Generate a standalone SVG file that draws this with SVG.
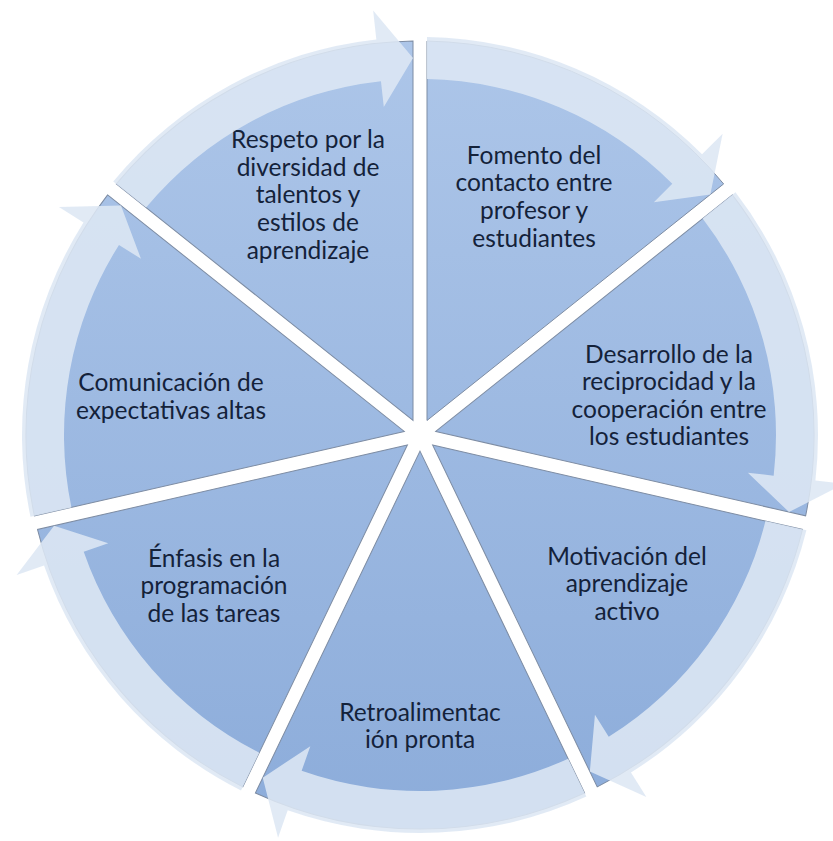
<svg xmlns="http://www.w3.org/2000/svg" width="833" height="841" viewBox="0 0 833 841">
<defs>
<style>
.w{stroke:#7d8ca3;stroke-width:1;}
.r{fill:#dde7f4;fill-opacity:0.88;}
.t{font-family:Lato,"Liberation Sans",sans-serif;font-size:24.5px;fill:#14223a;text-anchor:middle;}
</style>
<linearGradient id="g0" gradientUnits="userSpaceOnUse" x1="0" y1="-400" x2="0" y2="400">
<stop offset="0" stop-color="#adc6e9"/>
<stop offset="1" stop-color="#8cacda"/>
</linearGradient>
<linearGradient id="g1" href="#g0" gradientTransform="rotate(-51.4286)"/>
<linearGradient id="g2" href="#g0" gradientTransform="rotate(-102.8571)"/>
<linearGradient id="g3" href="#g0" gradientTransform="rotate(-154.2857)"/>
<linearGradient id="g4" href="#g0" gradientTransform="rotate(-205.7143)"/>
<linearGradient id="g5" href="#g0" gradientTransform="rotate(-257.1429)"/>
<linearGradient id="g6" href="#g0" gradientTransform="rotate(-308.5714)"/>
<path id="wedge" d="M7,-14.53 L7,-393.94 A394,394 0 0 1 303.63,-251.09 Z"/>
<path id="ring" d="M7,-397.94 A398,398 0 0 1 282.07,-280.79 L302.62,-301.25 L290.34,-240.48 L233.87,-232.82 L252.30,-251.16 A356,356 0 0 0 7,-355.93 Z"/>
</defs>
<rect width="833" height="841" fill="#ffffff"/>
<g id="node-fomento">
<use href="#wedge" class="w" fill="url(#g0)" transform="translate(420,435)"/>
<text class="t"><tspan x="534" y="163.5">Fomento del</tspan><tspan x="534" y="191.2">contacto entre</tspan><tspan x="534" y="218.9">profesor y</tspan><tspan x="534" y="246.6">estudiantes</tspan></text>
</g>
<g id="node-desarrollo">
<use href="#wedge" class="w" fill="url(#g1)" transform="translate(420,435) rotate(51.4286)"/>
<text class="t"><tspan x="669" y="362.5">Desarrollo de la</tspan><tspan x="669" y="390">reciprocidad y la</tspan><tspan x="669" y="417.5">cooperación entre</tspan><tspan x="669" y="445">los estudiantes</tspan></text>
</g>
<g id="node-motivacion">
<use href="#wedge" class="w" fill="url(#g2)" transform="translate(420,435) rotate(102.8571)"/>
<text class="t"><tspan x="627" y="564.5">Motivación del</tspan><tspan x="627" y="592">aprendizaje</tspan><tspan x="627" y="619.5">activo</tspan></text>
</g>
<g id="node-retro">
<use href="#wedge" class="w" fill="url(#g3)" transform="translate(420,435) rotate(154.2857)"/>
<text class="t"><tspan x="420" y="720.5">Retroalimentac</tspan><tspan x="420" y="748">ión pronta</tspan></text>
</g>
<g id="node-enfasis">
<use href="#wedge" class="w" fill="url(#g4)" transform="translate(420,435) rotate(205.7143)"/>
<text class="t"><tspan x="214" y="566.5">Énfasis en la</tspan><tspan x="214" y="594">programación</tspan><tspan x="214" y="621.5">de las tareas</tspan></text>
</g>
<g id="node-comunicacion">
<use href="#wedge" class="w" fill="url(#g5)" transform="translate(420,435) rotate(257.1429)"/>
<text class="t"><tspan x="171" y="391">Comunicación de</tspan><tspan x="171" y="418.5">expectativas altas</tspan></text>
</g>
<g id="node-respeto">
<use href="#wedge" class="w" fill="url(#g6)" transform="translate(420,435) rotate(308.5714)"/>
<text class="t"><tspan x="308" y="148">Respeto por la</tspan><tspan x="308" y="175.7">diversidad de</tspan><tspan x="308" y="203.4">talentos y</tspan><tspan x="308" y="231.1">estilos de</tspan><tspan x="308" y="258.8">aprendizaje</tspan></text>
</g>
<g id="connectors">
<use href="#ring" class="r" transform="translate(420,435)"/>
<use href="#ring" class="r" transform="translate(420,435) rotate(51.4286)"/>
<use href="#ring" class="r" transform="translate(420,435) rotate(102.8571)"/>
<use href="#ring" class="r" transform="translate(420,435) rotate(154.2857)"/>
<use href="#ring" class="r" transform="translate(420,435) rotate(205.7143)"/>
<use href="#ring" class="r" transform="translate(420,435) rotate(257.1429)"/>
<use href="#ring" class="r" transform="translate(420,435) rotate(308.5714)"/>
</g>
</svg>
